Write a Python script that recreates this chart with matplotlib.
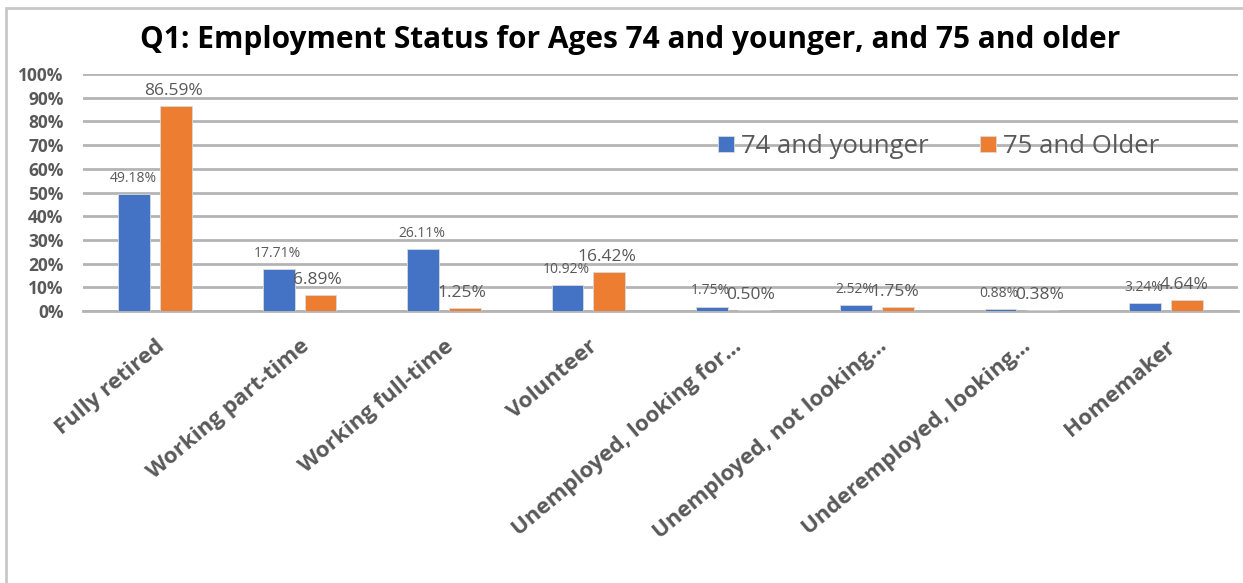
import numpy as np
import matplotlib
matplotlib.use('Agg')
import matplotlib.pyplot as plt
from matplotlib.patches import Rectangle
from matplotlib.ticker import PercentFormatter

# Data
categories = ['Fully retired', 'Working part-time', 'Working full-time', 'Volunteer',
              'Unemployed, looking for…', 'Unemployed, not looking…',
              'Underemployed, looking…', 'Homemaker']
younger = [49.18, 17.71, 26.11, 10.92, 1.75, 2.52, 0.88, 3.24]
older = [86.59, 6.89, 1.25, 16.42, 0.50, 1.75, 0.38, 4.64]
series_names = ['74 and younger', '75 and Older']

BLUE = '#4472C4'
ORANGE = '#ED7D31'
GRAY = '#595959'

plt.rcParams['font.family'] = ['Open Sans', 'DejaVu Sans']

fig = plt.figure(figsize=(12.43, 5.83), dpi=100)
ax = fig.add_axes([0.0668, 0.4666, 0.9292, 0.4064])

x = np.arange(len(categories))
w = 0.22
off = 0.145
ax.bar(x - off, younger, w, color=BLUE, edgecolor='#d9d9d9', linewidth=0.6,
       label=series_names[0], zorder=3)
ax.bar(x + off, older, w, color=ORANGE, edgecolor='#d9d9d9', linewidth=0.6,
       label=series_names[1], zorder=3)

for xi, v in zip(x, younger):
    ax.annotate(f'{v:.2f}%', (xi - off, v), xytext=(-1, 6), textcoords='offset points',
                ha='center', va='bottom', fontsize=10, color=GRAY)
for xi, v in zip(x, older):
    ax.annotate(f'{v:.2f}%', (xi + off, v), xytext=(-2, 5), textcoords='offset points',
                ha='center', va='bottom', fontsize=12.5, color=GRAY)

ax.set_xlim(-0.5, len(categories) - 0.5)
ax.set_ylim(0, 100)
ax.set_yticks(np.arange(0, 101, 10))
ax.yaxis.set_major_formatter(PercentFormatter(decimals=0))
ax.grid(axis='y', color='#b4b4b4', linewidth=2, zorder=0)
for s in ['top', 'right', 'left']:
    ax.spines[s].set_visible(False)
ax.spines['bottom'].set_color('#b4b4b4')
ax.spines['bottom'].set_linewidth(2)
ax.tick_params(axis='both', length=0)
ax.tick_params(axis='y', pad=14)
for lab in ax.get_yticklabels():
    lab.set_fontweight('bold')
    lab.set_color(GRAY)
    lab.set_fontsize(12.5)

ax.set_xticks(x)
ax.set_xticklabels(categories, rotation=40, ha='right', rotation_mode='anchor',
                   fontsize=16, fontweight='bold', color=GRAY)
ax.tick_params(axis='x', pad=18)

ax.legend(loc='center', bbox_to_anchor=(0.741, 0.695), ncol=2, frameon=False,
          fontsize=18.5, labelcolor=GRAY, handlelength=0.6, handleheight=0.6,
          handletextpad=0.3, columnspacing=2.0)

fig.text(0.507, 0.931, 'Q1: Employment Status for Ages 74 and younger, and 75 and older',
         ha='center', va='center', fontsize=21.5, fontweight='bold', color='black')

# chart border, cut off at right and bottom like the reference
fig.patches.append(Rectangle((0.005, -0.05), 1.1, 1.036, transform=fig.transFigure,
                             fill=False, edgecolor='#c8c8c8', linewidth=2))

fig.savefig('out.png', dpi=100)
